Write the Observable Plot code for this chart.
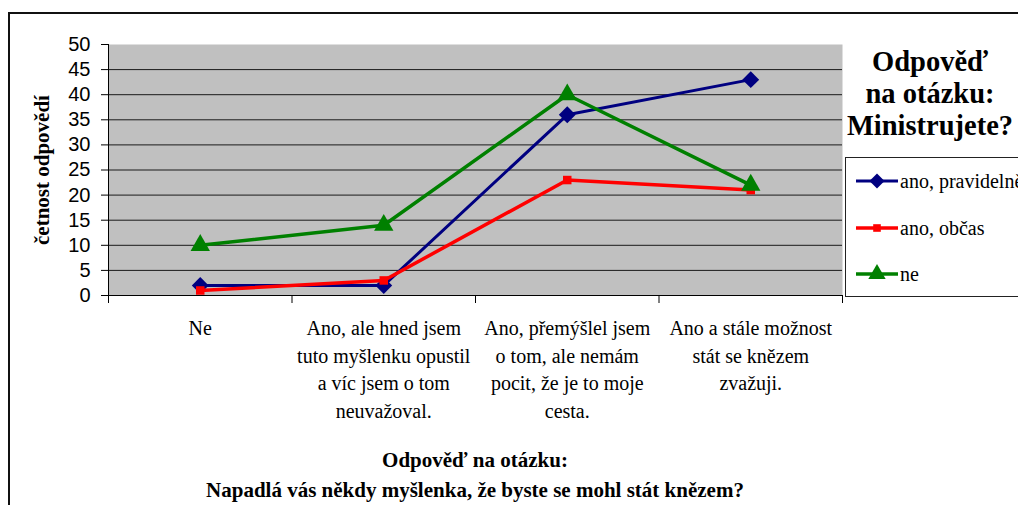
<!DOCTYPE html>
<html><head><meta charset="utf-8">
<script src="https://cdn.jsdelivr.net/npm/d3@7"></script>
<script src="https://cdn.jsdelivr.net/npm/@observablehq/plot@0.6"></script>
<style>
html,body{margin:0;padding:0;background:#fff;overflow:hidden;width:1018px;height:505px}
#wrap{position:relative;width:1018px;height:505px;overflow:hidden}
#wrap svg.plot{position:absolute;left:0;top:0}
.abs{position:absolute}
.serif{font-family:"Liberation Serif","Times New Roman",serif;color:#000}
.bold{font-weight:bold}
</style></head><body><div id="wrap"></div>
<script>
// ---- data ----
const categories = [
  "Ne",
  "Ano, ale hned jsem\ntuto myšlenku opustil\na víc jsem o tom\nneuvažoval.",
  "Ano, přemýšlel jsem\no tom, ale nemám\npocit, že je to moje\ncesta.",
  "Ano a stále možnost\nstát se knězem\nzvažuji."
];
const seriesNames = ["ano, pravidelně", "ano, občas", "ne"];
const pravidelne = [2, 2, 36, 43];
const obcas = [1, 3, 23, 21];
const ne = [10, 14, 40, 22];
const yTicks = [0, 5, 10, 15, 20, 25, 30, 35, 40, 45, 50];
const gridTicks = [5, 10, 15, 20, 25, 30, 35, 40, 45];
const yTitle = "četnost odpovědí";
const xTitle = ["Odpověď na otázku:", "Napadlá vás někdy myšlenka, že byste se mohl stát knězem?"];
const legendTitle = ["Odpověď", "na otázku:", "Ministrujete?"];

const colors = ["#000080", "#FF0000", "#008000"];
const plotSymbols = ["diamond2", "square", "triangle"];
const d3Symbols = [d3.symbolDiamond2, d3.symbolSquare, d3.symbolTriangle];
const radii = [7.6, 4.8, 7.2];
const widths = [3, 3.5, 3.5];

const seriesValues = [pravidelne, obcas, ne];
const rows = [];
seriesValues.forEach((vals, s) => vals.forEach((v, i) => rows.push({series: seriesNames[s], s, x: i + 0.5, y: v})));
const catRows = categories.map((c, i) => ({x: i + 0.5, label: c}));

const marks = [
  Plot.frame({fill: "#C0C0C0", stroke: null}),
  Plot.ruleY(gridTicks, {stroke: "#1a1a1a", strokeWidth: 1}),
  Plot.axisY({ticks: yTicks, tickSize: 7, tickPadding: 11, label: null, stroke: "#000"}),
  Plot.axisX({ticks: d3.range(0, categories.length + 1), tickSize: 8, tickFormat: () => "", label: null, stroke: "#000"}),
  Plot.ruleY([0], {stroke: "#000", strokeWidth: 1}),
  Plot.ruleX([0], {stroke: "#000", strokeWidth: 1}),
  Plot.text(catRows, {x: "x", text: "label", frameAnchor: "bottom", lineAnchor: "top", dy: 20,
    lineHeight: 1.38, fontFamily: "Liberation Serif, Times New Roman, serif", fontSize: 20, fill: "#000"})
];
seriesNames.forEach((name, s) => {
  const data = rows.filter(r => r.s === s);
  marks.push(Plot.line(data, {x: "x", y: "y", stroke: colors[s], strokeWidth: widths[s]}));
  marks.push(Plot.dot(data, {x: "x", y: "y", symbol: () => plotSymbols[s], fill: colors[s], stroke: "none", r: radii[s]}));
});

const chart = Plot.plot({
  width: 1018, height: 505,
  marginLeft: 108, marginRight: 176, marginTop: 44, marginBottom: 210,
  x: {type: "linear", domain: [0, categories.length]},
  y: {domain: [0, 50]},
  symbol: {type: "identity"},
  style: {fontFamily: "Liberation Sans, Arial, sans-serif", fontSize: "20px", color: "#000", background: "transparent", overflow: "visible"},
  marks
});
chart.classList.add("plot");
const wrap = document.getElementById("wrap");
wrap.appendChild(chart);

function div(cls, css, html) {
  const d = document.createElement("div");
  d.className = cls;
  Object.assign(d.style, css);
  if (html != null) d.textContent = html;
  wrap.appendChild(d);
  return d;
}
// outer chart border
div("abs", {left: "8px", top: "12px", width: "1100px", height: "600px", borderLeft: "2px solid #111", borderTop: "2px solid #111"});

// y title
div("abs serif bold", {left: "-68px", top: "158px", width: "220px", height: "24px", lineHeight: "24px", textAlign: "center",
  fontSize: "21px", transform: "rotate(-90deg)", whiteSpace: "nowrap"}, yTitle);

// x title
const xt = div("abs serif bold", {left: "108px", top: "445px", width: "734px", lineHeight: "30px", textAlign: "center", fontSize: "21px", whiteSpace: "nowrap"});
xTitle.forEach(t => { const l = document.createElement("div"); l.textContent = t; xt.appendChild(l); });

// legend title
const lt = div("abs serif bold", {left: "832px", top: "46px", width: "196px", lineHeight: "32px", textAlign: "center", fontSize: "28.5px", whiteSpace: "nowrap"});
legendTitle.forEach(t => { const l = document.createElement("div"); l.textContent = t; lt.appendChild(l); });

// legend box
div("abs", {left: "845px", top: "157px", width: "300px", height: "138px", border: "1.5px solid #222", background: "#fff"});
const centers = [181, 228, 274];
seriesNames.forEach((name, s) => {
  const row = div("abs serif", {left: "854px", top: (centers[s] - 13) + "px", height: "26px", lineHeight: "26px", fontSize: "20px", whiteSpace: "nowrap", display: "flex", alignItems: "center"});
  const svg = d3.create("svg").attr("width", 46).attr("height", 26).style("display", "block");
  svg.append("line").attr("x1", 2).attr("x2", 44).attr("y1", 13).attr("y2", 13).attr("stroke", colors[s]).attr("stroke-width", widths[s]);
  svg.append("path").attr("transform", "translate(23,13)").attr("d", d3.symbol(d3Symbols[s], Math.PI * radii[s] * radii[s] * 0.8)()).attr("fill", colors[s]);
  row.appendChild(svg.node());
  const sp = document.createElement("span");
  sp.textContent = name;
  row.appendChild(sp);
});
</script></body></html>
